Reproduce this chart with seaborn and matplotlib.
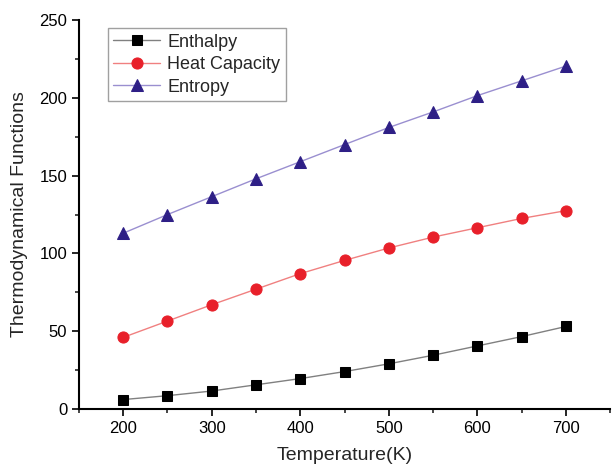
import matplotlib
matplotlib.use("Agg")
import matplotlib.pyplot as plt
import seaborn as sns
import pandas as pd
from matplotlib.ticker import MultipleLocator

temperature = [200, 250, 300, 350, 400, 450, 500, 550, 600, 650, 700]
enthalpy = [6.0, 8.5, 11.5, 15.5, 19.5, 24.0, 29.0, 34.5, 40.5, 46.5, 53.0]
heat_capacity = [46.0, 56.5, 67.0, 77.0, 87.0, 95.5, 103.5, 110.5, 116.5, 122.5, 127.5]
entropy = [113.0, 125.0, 136.5, 148.0, 159.0, 170.0, 181.0, 191.0, 201.5, 211.0, 220.5]
series_names = ["Enthalpy", "Heat Capacity", "Entropy"]

sns.set_style("ticks")
plt.rcParams['font.family'] = ['Liberation Sans', 'DejaVu Sans']

fig = plt.figure(figsize=(6.12, 4.70), dpi=100)
ax = fig.add_axes([0.129, 0.130, 0.868, 0.827])

styles = [
    dict(line="#808080", marker="s", mc="black", ms=6.5),
    dict(line="#f08080", marker="o", mc="#e8202a", ms=8),
    dict(line="#9a8fd0", marker="^", mc="#2e1f86", ms=9),
]
for name, vals, st in zip(series_names, [enthalpy, heat_capacity, entropy], styles):
    df = pd.DataFrame({"T": temperature, "v": vals})
    sns.lineplot(data=df, x="T", y="v", ax=ax, color=st["line"], linewidth=1.0,
                 marker=st["marker"], markersize=st["ms"], markerfacecolor=st["mc"],
                 markeredgecolor=st["mc"], label=name)

ax.set_xlim(150, 750)
ax.set_ylim(0, 250)
ax.xaxis.set_major_locator(MultipleLocator(100))
ax.xaxis.set_minor_locator(MultipleLocator(50))
ax.yaxis.set_major_locator(MultipleLocator(50))
ax.yaxis.set_minor_locator(MultipleLocator(25))
ax.tick_params(axis="both", which="major", direction="out", length=5, width=1.2, labelsize=12, colors="black")
ax.tick_params(axis="both", which="minor", direction="out", length=3, width=1.2)
for s in ["left", "bottom"]:
    ax.spines[s].set_linewidth(1.5)
    ax.spines[s].set_color("black")
ax.spines["top"].set_visible(False)
ax.spines["right"].set_visible(False)

ax.set_xlabel("Temperature(K)", fontsize=14, labelpad=8)
ax.set_ylabel("Thermodynamical Functions", fontsize=14, labelpad=8)

leg = ax.legend(loc="upper left", bbox_to_anchor=(0.054, 0.979), fontsize=13,
                frameon=True, fancybox=False, edgecolor="#888888",
                handlelength=2.6, labelspacing=0.3, borderpad=0.3, handletextpad=0.4,
                borderaxespad=0)
leg.get_frame().set_linewidth(1.0)

fig.savefig("out.png", dpi=100)
